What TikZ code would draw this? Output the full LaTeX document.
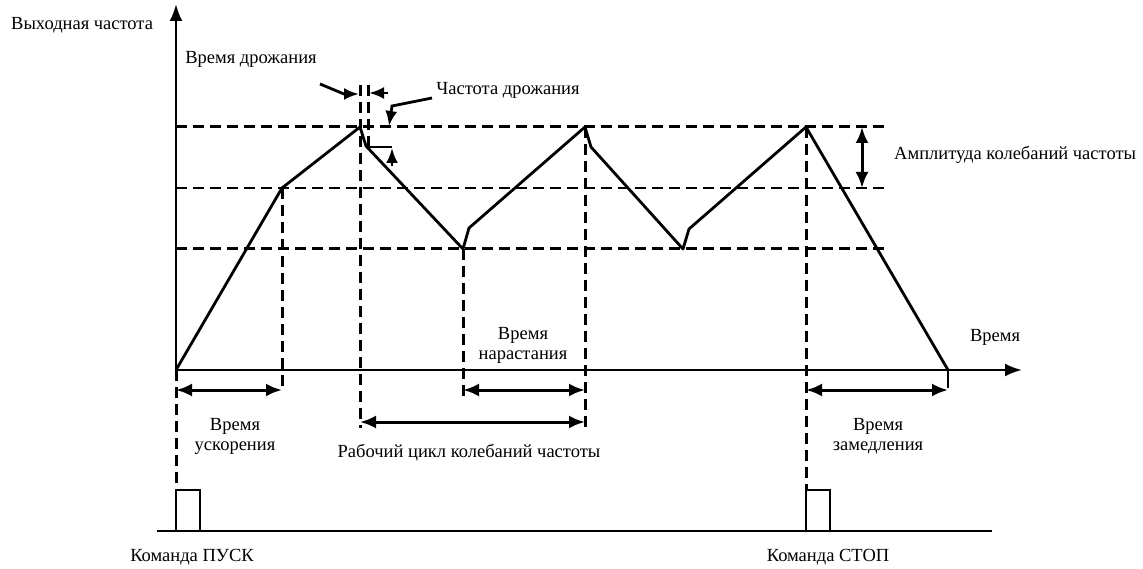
\documentclass[tikz,border=0pt]{standalone}
\usepackage{fontspec}
\setmainfont{Liberation Serif}
\usetikzlibrary{arrows.meta,positioning}

\begin{document}
\begin{tikzpicture}[
    x=1pt, y=-1pt,
    axis/.style={line width=2.6pt, -{Latex[length=17pt,width=13pt]}},
    guide/.style={line width=3pt, dash pattern=on 11pt off 6pt},
    wave/.style={line width=2.8pt, line join=round},
    span/.style={line width=3pt, {Latex[length=16pt,width=13pt]}-{Latex[length=16pt,width=13pt]}},
    tip/.style={line width=2.8pt, -{Latex[length=15pt,width=12pt]}},
    lbl/.style={font=\fontsize{18.5}{20}\selectfont, align=center, inner sep=1pt}
  ]
    \useasboundingbox (0,0) rectangle (1143,569);

    % axes
    \coordinate (o)  at (176,370);
    \coordinate (yt) at (176,4);
    \coordinate (xt) at (1022,370);
    \draw[axis] (o) -- (yt);
    \draw[axis] (o) -- (xt);

    % levels
    \coordinate (hi)  at (176,127);  \coordinate (hi')  at (887,127);
    \coordinate (mid) at (176,188);  \coordinate (mid') at (887,188);
    \coordinate (lo)  at (176,249);  \coordinate (lo')  at (887,249);
    \draw[guide] (hi) -- (hi');
    \draw[guide, line width=2.3pt] (mid) -- (mid');
    \draw[guide] (lo) -- (lo');

    % output frequency
    \coordinate (a1)  at (282,188);
    \coordinate (p1)  at (360,127);
    \coordinate (p1j) at (366,146);
    \coordinate (v1)  at (463,249);
    \coordinate (v1j) at (469,228);
    \coordinate (p2)  at (585,127);
    \coordinate (p2j) at (591,147);
    \coordinate (v2)  at (683,249);
    \coordinate (v2j) at (689,229);
    \coordinate (p3)  at (806,127);
    \coordinate (e)   at (948,370);
    \draw[wave] (o) -- (a1) -- (p1) -- (p1j) -- (v1) -- (v1j) -- (p2) -- (p2j)
                -- (v2) -- (v2j) -- (p3) -- (e);

    % verticals
    \draw[guide] (o) -- (176,490);
    \draw[guide] (a1) -- (282,388);
    \draw[guide] (360,85) -- (360,428);
    \draw[guide] (368,85) -- (368,147);
    \draw[guide] (v1) -- (463,400);
    \draw[guide] (p2) -- (585,428);
    \draw[guide] (p3) -- (806,490);
    \draw[line width=2.8pt] (e) -- (948,388);

    % spans
    \draw[span] (176,390) -- (282,390);
    \draw[span] (463,390) -- (585,390);
    \draw[span] (360,422) -- (585,422);
    \draw[span] (806,390) -- (948,390);
    \draw[span] (862,127) -- (862,188);

    % jitter
    \coordinate (jt)  at (320,84);
    \coordinate (jt1) at (344,94);
    \draw[tip] (jt) -- (jt1) -- (359,94);
    \draw[tip] (388,93) -- (369,93);
    \coordinate (jf)  at (432,98);
    \coordinate (jf1) at (392,106);
    \draw[tip] (jf) -- (jf1) -- (389,126);
    \draw[line width=2.8pt] (368,147) -- (392,147);
    \draw[tip] (392,166) -- (392,148);

    % start / stop commands
    \coordinate (b0) at (157,531);
    \coordinate (b1) at (992,531);
    \draw[line width=2.8pt] (b0) -- (b1);
    \draw[line width=2.8pt] (176,531) -- (176,490) -- (200,490) -- (200,531);
    \draw[line width=2.8pt] (806,531) -- (806,490) -- (830,490) -- (830,531);

    % labels
    \node[lbl, anchor=west] (fout) at (10,25)  {Выходная частота};
    \node[lbl] (tj)   at (251,59)  {Время дрожания};
    \node[lbl] (fj)   at (508,90)  {Частота дрожания};
    \node[lbl, anchor=west] (amp) at (893,155) {Амплитуда колебаний частоты};
    \node[lbl] (time) at (995,337) {Время};
    \node[lbl] (rise) at (523,345) {Время\\нарастания};
    \node[lbl] (acc)  at (235,436) {Время\\ускорения};
    \node[lbl] (cyc)  at (469,453) {Рабочий цикл колебаний частоты};
    \node[lbl] (dec)  at (878,436) {Время\\замедления};
    \node[lbl] (run)  at (192,557) {Команда ПУСК};
    \node[lbl] (stop) at (828,557) {Команда СТОП};
  \end{tikzpicture}
\end{document}
